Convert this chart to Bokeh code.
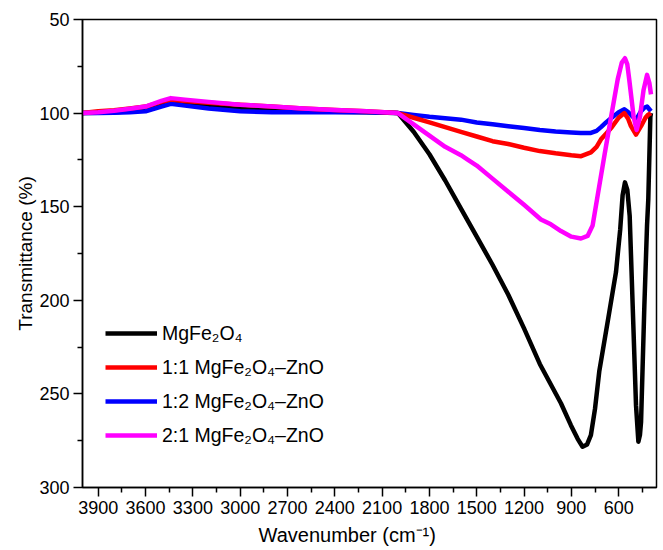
from bokeh.plotting import figure
from bokeh.models import (Range1d, FixedTicker, Legend, LegendItem, Title)
from bokeh.embed import file_html
from bokeh.resources import INLINE

# FTIR spectra: wavenumber (cm^-1) vs transmittance (%)
wn_mgfe = [4000, 3900, 3800, 3700, 3600, 3500, 3440, 3350, 3200, 3000, 2800, 2600, 2400, 2200, 2000,
           1900, 1800, 1700, 1600, 1500, 1400, 1300, 1200, 1100,
           1030, 966, 903, 860, 829, 800, 776, 750, 723, 670,
           617, 590, 575, 560, 545, 530, 511, 490, 475, 465,
           458, 437, 420, 412, 399, 395]
t_mgfe = [100, 99.8, 99.5, 99, 98, 95.5, 94.2, 95, 96.5, 97.8, 98.5, 99, 99.3, 99.5, 100,
          110, 122, 136, 151, 166, 181, 197, 215, 234,
          245, 255, 266.7, 274, 278.2, 277, 272, 258, 238, 211.7,
          185, 162, 144, 137, 141, 155, 203, 256, 275.5, 272,
          265, 203, 160, 146, 102, 100]

wn_11 = [4000, 3900, 3800, 3700, 3600, 3500, 3440, 3350, 3200, 3000, 2800, 2600, 2400, 2200, 2000,
         1900, 1800, 1700, 1600, 1500, 1400, 1300, 1200, 1100, 1000,
         900, 838, 776, 740, 712, 680, 648, 600, 564, 540,
         522, 490, 458, 430, 415, 395]
t_11 = [100, 99, 98.5, 97.5, 96.5, 94, 92.8, 93.5, 94.5, 95.5, 96.5, 97.5, 98.3, 99, 100,
        102.5, 105, 107.5, 110, 112.5, 115, 116.5, 118.5, 120.3, 121.5,
        122.5, 123, 121, 118, 114, 111, 108, 102.5, 100, 103,
        107, 111.5, 107, 102.5, 101, 100]

wn_12 = [4000, 3900, 3800, 3700, 3600, 3500, 3440, 3350, 3200, 3000, 2800, 2600, 2400, 2200, 2000,
         1900, 1800, 1700, 1600, 1500, 1400, 1300, 1200, 1100,
         1000, 900, 840, 776, 740, 712, 680, 648,
         600, 564, 540, 522, 490, 458, 435, 420, 395]
t_12 = [100, 100, 99.8, 99.5, 99, 96.5, 95, 96, 97.5, 99, 99.5, 99.6, 99.5, 99.5, 100,
        101, 102, 102.8, 103.5, 105, 106, 107, 108, 109,
        109.8, 110.3, 110.6, 110.6, 109.5, 107.5, 105, 102.7,
        99.5, 98, 99.5, 101, 103.6, 99, 97, 96.5, 99]

wn_21 = [4000, 3900, 3800, 3700, 3600, 3500, 3440, 3350, 3200, 3000, 2800, 2600, 2400, 2200, 2000,
         1900, 1800, 1700, 1600, 1558, 1500, 1400, 1300, 1200, 1093,
         1030, 966, 900, 839, 797, 765, 733, 691, 648, 606,
         580, 560, 545, 533, 505, 486, 465, 442, 420, 405, 395]
t_21 = [100, 99.5, 98.8, 97.7, 96.5, 93.5, 92, 92.8, 94, 95.5, 96.5, 97.5, 98.3, 99, 100,
        106, 112, 118, 122.5, 124.8, 128, 135, 142, 149, 156.8,
        159.4, 163, 166, 167, 165.6, 160, 144, 123, 102, 82,
        73, 70.7, 74, 82, 102, 109, 102, 87.6, 79.6, 84, 90]

labels = ["MgFe\u2082O\u2084",
          "1:1 MgFe\u2082O\u2084\u2013ZnO",
          "1:2 MgFe\u2082O\u2084\u2013ZnO",
          "2:1 MgFe\u2082O\u2084\u2013ZnO"]
colors = ["#000000", "#ff0000", "#0000ff", "#ff00ff"]

x_major = [3900, 3600, 3300, 3000, 2700, 2400, 2100, 1800, 1500, 1200, 900, 600]
x_minor = [3750, 3450, 3150, 2850, 2550, 2250, 1950, 1650, 1350, 1050, 750, 450]
y_major = [50, 100, 150, 200, 250, 300]
y_minor = [75, 125, 175, 225, 275]

FONT = "Liberation Sans"

p = figure(width=663, height=550, output_backend="svg", toolbar_location=None,
           x_range=Range1d(4000, 360), y_range=Range1d(300, 50),
           min_border_left=82, min_border_right=7, min_border_top=19, min_border_bottom=61)
p.background_fill_color = "white"
p.border_fill_color = "white"
p.grid.visible = False
p.outline_line_color = "black"
p.outline_line_width = 1.5

for ax in (p.xaxis[0], p.yaxis[0]):
    ax.axis_line_width = 1.5
    ax.major_tick_line_width = 1.5
    ax.minor_tick_line_width = 1.5
    ax.major_tick_in = 0
    ax.major_tick_out = 9
    ax.minor_tick_in = 0
    ax.minor_tick_out = 5
    ax.major_label_text_font = FONT
    ax.major_label_text_font_size = "18px"
    ax.major_label_text_color = "black"
    ax.major_label_standoff = 4
    ax.axis_label_text_font = FONT
    ax.axis_label_text_font_size = "19px"
    ax.axis_label_text_font_style = "normal"
    ax.axis_label_text_color = "black"

p.xaxis.ticker = FixedTicker(ticks=x_major, minor_ticks=x_minor)
p.yaxis.ticker = FixedTicker(ticks=y_major, minor_ticks=y_minor)
p.yaxis.axis_label = "Transmittance (%)"
p.yaxis.axis_label_standoff = 0

xt = Title(text="Wavenumber (cm\u207b\u00b9)", align="left", offset=176,
           text_font=FONT, text_font_size="20px", text_font_style="normal",
           text_color="black")
p.add_layout(xt, "below")

series = [(wn_mgfe, t_mgfe), (wn_11, t_11), (wn_12, t_12), (wn_21, t_21)]
renderers = [None] * 4
for i in [0, 2, 1, 3]:
    wn, t = series[i]
    renderers[i] = p.line(wn, t, line_color=colors[i], line_width=4.5, line_join="round")

legend = Legend(items=[LegendItem(label=labels[i], renderers=[renderers[i]]) for i in range(4)],
                location=(23, 35), glyph_width=52, glyph_height=34, label_height=34,
                spacing=0, padding=0, margin=0, label_standoff=5,
                border_line_color=None, background_fill_alpha=0,
                label_text_font=FONT, label_text_font_size="19.5px",
                label_text_color="black")
p.add_layout(legend)

open("out.html", "w").write(file_html(p, INLINE))
